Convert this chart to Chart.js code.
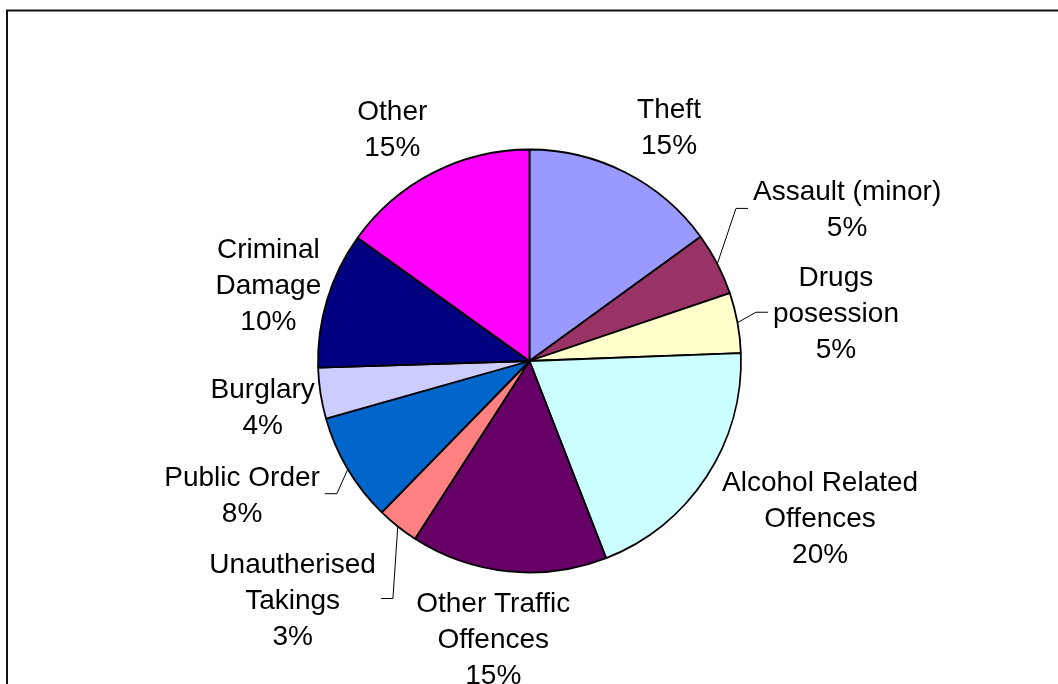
<!DOCTYPE html>
<html>
<head>
<meta charset="utf-8">
<script src="https://cdn.jsdelivr.net/npm/chart.js@4/dist/chart.umd.min.js"></script>
<style>
  html, body { margin: 0; padding: 0; background: #fff; }
  #wrap { position: relative; width: 1058px; height: 684px; }
</style>
</head>
<body>
<div id="wrap"><canvas id="c" width="1058" height="684"></canvas></div>
<script>
// ---- data ----
const categories = [
  ["Theft"],
  ["Assault (minor)"],
  ["Drugs", "posession"],
  ["Alcohol Related", "Offences"],
  ["Other Traffic", "Offences"],
  ["Unautherised", "Takings"],
  ["Public Order"],
  ["Burglary"],
  ["Criminal", "Damage"],
  ["Other"]
];
const shares = [15, 4.8, 4.6, 19.7, 15, 3.2, 8.3, 3.9, 10.4, 15.1];
const sliceColors = ["#9999FF", "#993366", "#FFFFCC", "#CCFFFF", "#660066",
                     "#FF8080", "#0066CC", "#CCCCFF", "#000080", "#FF00FF"];

// ---- label layout (relative to slice geometry) ----
const labelDist  = [1.292, 1.666, 1.467, 1.559, 1.320, 1.586, 1.497, 1.279, 1.288, 1.279]; // x outer radius
const labelShift = [3.7, 1.7, 1.4, -5.1, 1.7, 6.4, 6.0, -0.7, -0.4, -3.3];               // degrees
const hasLeader  = [false, true, true, false, false, true, true, false, false, false];

const FONT = '28px "Liberation Sans", Arial, sans-serif';
const LINE_H = 36;

const framePlugin = {
  id: 'frame',
  beforeDraw(chart) {
    const ctx = chart.ctx;
    ctx.save();
    ctx.fillStyle = '#fff';
    ctx.fillRect(0, 0, chart.width, chart.height);
    ctx.strokeStyle = '#111';
    ctx.lineWidth = 2;
    ctx.beginPath();
    ctx.moveTo(7, chart.height + 5);
    ctx.lineTo(7, 10.5);
    ctx.lineTo(chart.width + 5, 10.5);
    ctx.stroke();
    ctx.restore();
  }
};

const labelPlugin = {
  id: 'pieLabels',
  afterDatasetsDraw(chart) {
    const ctx = chart.ctx;
    const meta = chart.getDatasetMeta(0);
    const data = chart.data.datasets[0].data;
    const total = data.reduce((a, b) => a + b, 0);
    ctx.save();
    ctx.font = FONT;
    ctx.fillStyle = '#000';
    ctx.textAlign = 'center';
    ctx.textBaseline = 'alphabetic';
    meta.data.forEach((arc, i) => {
      const p = arc.getProps(['x', 'y', 'startAngle', 'endAngle', 'outerRadius'], true);
      const mid = (p.startAngle + p.endAngle) / 2;
      const a = mid + labelShift[i] * Math.PI / 180;
      const cx = p.x + Math.cos(a) * p.outerRadius * labelDist[i];
      const cy = p.y + Math.sin(a) * p.outerRadius * labelDist[i];
      const lines = chart.data.labels[i].concat([Math.round(data[i] / total * 100) + '%']);
      const n = lines.length;
      let maxW = 0;
      lines.forEach((t, k) => {
        const y = cy + (k - (n - 1) / 2) * LINE_H + 10;
        ctx.fillText(t, cx, y);
        maxW = Math.max(maxW, ctx.measureText(t).width);
      });
      if (hasLeader[i]) {
        const sx = p.x + Math.cos(mid) * p.outerRadius;
        const sy = p.y + Math.sin(mid) * p.outerRadius;
        const right = cx > p.x;
        const edge = right ? cx - maxW / 2 : cx + maxW / 2;
        const dir = right ? -1 : 1;
        ctx.strokeStyle = '#000';
        ctx.lineWidth = 1;
        ctx.beginPath();
        ctx.moveTo(sx, sy);
        ctx.lineTo(edge + dir * 17, cy);
        ctx.lineTo(edge + dir * 5, cy);
        ctx.stroke();
      }
    });
    ctx.restore();
  }
};

new Chart(document.getElementById('c'), {
  type: 'pie',
  data: {
    labels: categories,
    datasets: [{
      data: shares,
      backgroundColor: sliceColors,
      borderColor: '#000',
      borderWidth: 1.8
    }]
  },
  options: {
    responsive: false,
    animation: false,
    radius: 211.5,
    layout: { padding: { left: 1, right: 0, top: 38, bottom: 0 } },
    plugins: { legend: { display: false }, tooltip: { enabled: false } }
  },
  plugins: [framePlugin, labelPlugin]
});
</script>
</body>
</html>
